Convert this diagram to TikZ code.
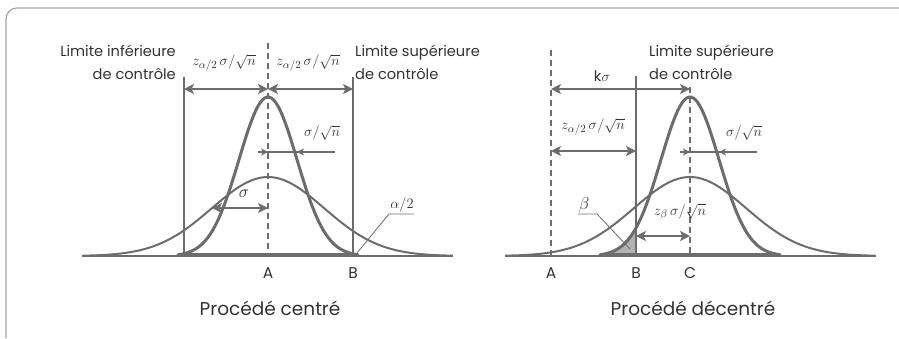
\documentclass[tikz,border=0pt]{standalone}
\usepackage{fontspec}
\setmainfont{Poppins}
\usepackage{tikz}
\usetikzlibrary{arrows.meta,positioning,calc}
\definecolor{crvgray}{RGB}{108,108,108}
\definecolor{txtgray}{RGB}{50,50,50}
\definecolor{framegray}{RGB}{165,165,165}
\definecolor{shadegray}{RGB}{178,178,178}
\tikzset{
  curve/.style={crvgray, line width=2pt},
  narrow/.style={crvgray, line width=3pt, line join=round},
  limit/.style={crvgray, line width=1.1pt},
  centre/.style={crvgray, line width=1.1pt, dash pattern=on 6pt off 4pt},
  dimarrow/.style={{Stealth[length=10pt,width=10pt,inset=2.5pt]}-{Stealth[length=10pt,width=10pt,inset=2.5pt]}, crvgray, line width=1.2pt},
  tickarrow/.style={-{Stealth[length=7pt,width=7pt,inset=2pt]}, crvgray, line width=1.1pt},
  leader/.style={crvgray, line width=0.8pt},
  lbl/.style={text=txtgray, inner sep=0pt},
  mlbl/.style={text=txtgray, inner sep=0pt, font=\fontsize{15.5}{15.5}\selectfont},
  ttl/.style={text=txtgray, inner sep=0pt, font=\fontsize{18.5}{18.5}\selectfont},
}
\begin{document}
\begin{tikzpicture}[x=1pt, y=-1pt, font=\fontsize{14.6}{23}\selectfont]
\useasboundingbox (0,0) rectangle (899,338);
% frame
\coordinate (fbl) at (6,338);
\coordinate (ftl) at (6,8);
\coordinate (ftr) at (899,8);
\draw[framegray, line width=1.2pt, rounded corners=11pt] (fbl) -- (ftl) -- (ftr);

% ---- left: centred process ----
\coordinate (lb0) at (82,256);  \coordinate (lb1) at (453,256);
\coordinate (lA) at (268,256);  \coordinate (lAtop) at (268,43);
\coordinate (lL) at (184,256);  \coordinate (lLtop) at (184,77);
\coordinate (lB) at (353,256);  \coordinate (lBtop) at (353,77);
\draw[curve] (lb0) -- (lb1);
\draw[curve] plot[domain=-3.3:3.3, samples=80] ({268+56*\x},{256-79*exp(-\x*\x/2)});
\draw[narrow] plot[domain=-3.1:3.1, samples=80] ({268+29*\x},{256-159*exp(-\x*\x/2)}) -- cycle;
\draw[limit] (lL) -- (lLtop);
\draw[limit] (lB) -- (lBtop);
\draw[centre] (lAtop) -- (lA);
% dimension arrows
\coordinate (lL89) at (184,89); \coordinate (lA89) at (268,89); \coordinate (lB89) at (353,89);
\draw[dimarrow] (lL89) -- (lA89);
\draw[dimarrow] (lA89) -- (lB89);
\node[mlbl] (lzl) at (224,63) {$z_{\alpha/2}\,\sigma/\sqrt{n}$};
\node[mlbl] (lzr) at (308,63) {$z_{\alpha/2}\,\sigma/\sqrt{n}$};
% sigma/sqrt(n)
\coordinate (ls0) at (258,152); \coordinate (ls1) at (268,152);
\coordinate (ls2) at (297,152); \coordinate (ls3) at (335,152);
\draw[limit] (ls0) -- (ls3);
\draw[tickarrow] (ls0) -- (ls1);
\draw[tickarrow] (ls3) -- (ls2);
\node[mlbl] (lsn) at (322,133) {$\sigma/\sqrt{n}$};
% sigma
\coordinate (lw0) at (212,208); \coordinate (lw1) at (268,208);
\draw[dimarrow] (lw0) -- (lw1);
\node[mlbl, font=\fontsize{17}{17}\selectfont] (lsig) at (244,194) {$\sigma$};
% alpha/2
\node[mlbl, font=\fontsize{14}{14}\selectfont] (lalpha) at (402,205) {$\alpha/2$};
\coordinate (lau0) at (389,214); \coordinate (lau1) at (414,214); \coordinate (latip) at (357,253);
\draw[leader] (lau1) -- (lau0) -- (latip);
% texts
\node[lbl, align=right, anchor=east] (lli) at (176,62) {Limite inférieure\\de contrôle};
\node[lbl, align=left, anchor=west] (lls) at (355,62) {Limite supérieure\\de contrôle};
\node[lbl, font=\fontsize{15.5}{15.5}\selectfont] (lAlab) at (268,273) {A};
\node[lbl, font=\fontsize{15.5}{15.5}\selectfont] (lBlab) at (353,273) {B};
\node[ttl] (ltitle) at (270,308) {Procédé centré};

% ---- right: off-centre process ----
\coordinate (rb0) at (505,256);  \coordinate (rb1) at (876,256);
\coordinate (rA) at (551,256);  \coordinate (rAtop) at (551,50);
\coordinate (rB) at (636,256);  \coordinate (rBtop) at (636,76);
\coordinate (rC) at (690,256);  \coordinate (rCtop) at (690,87);
\fill[shadegray] plot[domain=-3.1:-1.86, samples=30] ({690+29*\x},{256-159*exp(-\x*\x/2)}) -- (rB) -- cycle;
\draw[curve] (rb0) -- (rb1);
\draw[curve] plot[domain=-3.3:3.3, samples=80] ({690+56*\x},{256-79*exp(-\x*\x/2)});
\draw[narrow] plot[domain=-3.1:3.1, samples=80] ({690+29*\x},{256-159*exp(-\x*\x/2)}) -- cycle;
\draw[centre] (rAtop) -- (rA);
\draw[limit] (rB) -- (rBtop);
\draw[centre] (rCtop) -- (rC);
% k sigma
\coordinate (rA89) at (551,89); \coordinate (rC89) at (690,89);
\draw[dimarrow] (rA89) -- (rC89);
\node[lbl] (rk) at (602,76) {k$\sigma$};
% z alpha/2
\coordinate (rA151) at (551,151); \coordinate (rB151) at (636,151);
\draw[dimarrow] (rA151) -- (rB151);
\node[mlbl] (rz) at (593,127) {$z_{\alpha/2}\,\sigma/\sqrt{n}$};
% sigma/sqrt(n)
\coordinate (rs0) at (680,152); \coordinate (rs1) at (690,152);
\coordinate (rs2) at (719,152); \coordinate (rs3) at (757,152);
\draw[limit] (rs0) -- (rs3);
\draw[tickarrow] (rs0) -- (rs1);
\draw[tickarrow] (rs3) -- (rs2);
\node[mlbl] (rsn) at (744,133) {$\sigma/\sqrt{n}$};
% z beta
\coordinate (rB236) at (636,236); \coordinate (rC236) at (690,236);
\draw[dimarrow] (rB236) -- (rC236);
\node[mlbl] (rzb) at (680,212) {$z_{\beta}\,\sigma/\sqrt{n}$};
% beta
\node[mlbl, font=\fontsize{18}{18}\selectfont] (rbeta) at (584,205) {$\beta$};
\coordinate (rbu0) at (578,214); \coordinate (rbu1) at (597,214); \coordinate (rbtip) at (630,249);
\draw[leader] (rbu0) -- (rbu1) -- (rbtip);
% texts
\node[lbl, align=left, anchor=west] (rls) at (649,62) {Limite supérieure\\de contrôle};
\node[lbl, font=\fontsize{15.5}{15.5}\selectfont] (rAlab) at (551,273) {A};
\node[lbl, font=\fontsize{15.5}{15.5}\selectfont] (rBlab) at (636,273) {B};
\node[lbl, font=\fontsize{15.5}{15.5}\selectfont] (rClab) at (690,273) {C};
\node[ttl] (rtitle) at (693,308) {Procédé décentré};
\end{tikzpicture}
\end{document}
